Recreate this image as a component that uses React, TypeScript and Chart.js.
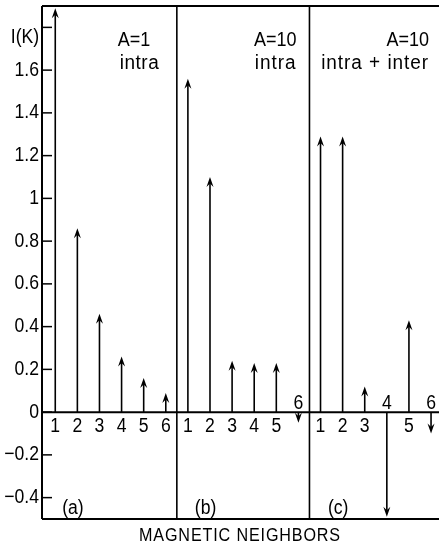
import { useEffect, useRef } from "react";
import { Chart, registerables } from "chart.js";

Chart.register(...registerables);

const neighbors = ["1", "2", "3", "4", "5", "6"];
const panelA = [1.89, 0.86, 0.46, 0.26, 0.16, 0.09];
const panelB = [1.56, 1.1, 0.24, 0.23, 0.23, -0.05];
const panelC = [1.29, 1.29, 0.12, -0.49, 0.43, -0.1];
const panelTitles = [
  ["A=1", "intra"],
  ["A=10", "intra"],
  ["A=10", "intra + inter"],
];
const panelTags = ["(a)", "(b)", "(c)"];
const yTicks = [-0.4, -0.2, 0, 0.2, 0.4, 0.6, 0.8, 1, 1.2, 1.4, 1.6, 1.8];
const yTickLabels = ["−0.4", "−0.2", "0", "0.2", "0.4", "0.6", "0.8", "1", "1.2", "1.4", "1.6", ""];
const yAxisTitle = "I(K)";
const xAxisTitle = "MAGNETIC NEIGHBORS";

const FONT = "'Liberation Sans', Arial, sans-serif";
const SPAN = 6;
const OFFSET = 0.6;

const panels = [panelA, panelB, panelC];

function drawText(
  ctx: CanvasRenderingContext2D,
  text: string,
  x: number,
  y: number,
  align: CanvasTextAlign,
  size = 20,
  sx = 0.88,
  spacing = 0
) {
  ctx.save();
  ctx.translate(x, y);
  ctx.scale(sx, 1);
  ctx.font = `${size}px ${FONT}`;
  (ctx as any).letterSpacing = `${spacing}px`;
  ctx.textAlign = align;
  ctx.textBaseline = "middle";
  ctx.fillText(text, 0, 0);
  ctx.restore();
}

function drawArrow(ctx: CanvasRenderingContext2D, px: number, yBase: number, yTip: number) {
  const dir = yTip < yBase ? -1 : 1;
  const len = Math.min(10, Math.abs(yTip - yBase));
  const half = 3.5;
  ctx.lineWidth = 1.6;
  ctx.beginPath();
  ctx.moveTo(px, yBase);
  ctx.lineTo(px, yTip - dir * len * 0.6);
  ctx.stroke();
  ctx.beginPath();
  ctx.moveTo(px, yTip);
  ctx.lineTo(px - half, yTip - dir * len);
  ctx.lineTo(px, yTip - dir * len * 0.65);
  ctx.lineTo(px + half, yTip - dir * len);
  ctx.closePath();
  ctx.fill();
}

const figurePlugin = {
  id: "figure",
  afterDatasetsDraw(chart: any) {
    const { ctx, chartArea, scales } = chart;
    const x = scales.x;
    const y = scales.y;
    const y0 = y.getPixelForValue(0);
    ctx.save();
    ctx.strokeStyle = "#000";
    ctx.fillStyle = "#000";
    ctx.lineCap = "butt";

    // frame
    ctx.lineWidth = 2;
    ctx.beginPath();
    ctx.moveTo(chartArea.left, chartArea.top);
    ctx.lineTo(chartArea.right, chartArea.top);
    ctx.moveTo(chartArea.left, chartArea.bottom);
    ctx.lineTo(chartArea.right, chartArea.bottom);
    ctx.moveTo(chartArea.left, chartArea.top);
    ctx.lineTo(chartArea.left, chartArea.bottom);
    ctx.stroke();

    // panel dividers
    ctx.lineWidth = 1.6;
    for (let k = 1; k < panels.length; k++) {
      const px = x.getPixelForValue(k * SPAN + 0.1);
      ctx.beginPath();
      ctx.moveTo(px, chartArea.top);
      ctx.lineTo(px, chartArea.bottom);
      ctx.stroke();
    }

    // zero line
    ctx.lineWidth = 2;
    ctx.beginPath();
    ctx.moveTo(chartArea.left, y0);
    ctx.lineTo(chartArea.right, y0);
    ctx.stroke();

    // inside y ticks + labels
    ctx.lineWidth = 1.5;
    yTicks.forEach((v, i) => {
      const py = y.getPixelForValue(v);
      ctx.beginPath();
      ctx.moveTo(chartArea.left, py);
      ctx.lineTo(chartArea.left + 10, py);
      ctx.stroke();
      if (yTickLabels[i]) drawText(ctx, yTickLabels[i], chartArea.left - 3, py, "right");
    });

    // arrows and neighbor labels
    panels.forEach((vals, k) => {
      const meta = chart.getDatasetMeta(k);
      meta.data.forEach((el: any, i: number) => {
        const v = vals[i];
        drawArrow(ctx, el.x, y0, el.y);
        const ly = v >= 0 ? y0 + 14 : y0 - 9;
        drawText(ctx, neighbors[i], el.x, ly, "center");
      });
    });

    // y axis title
    drawText(ctx, yAxisTitle, chartArea.left - 17, y.getPixelForValue(1.8) + 10, "center");

    // panel titles
    panelTitles.forEach((lines, k) => {
      const right = x.getPixelForValue((k + 1) * SPAN + 0.1);
      const ya = y.getPixelForValue(1.74);
      const yb = y.getPixelForValue(1.63);
      if (k === 0) {
        drawText(ctx, lines[0], right - 59, ya, "left", 20, 0.9);
        drawText(ctx, lines[1], right - 57, yb, "left", 20, 0.95, 0.5);
      } else {
        drawText(ctx, lines[0], right - 13, ya, "right", 20, 0.9);
        drawText(ctx, lines[1], right - 13, yb, "right", 20, 0.95, 1);
      }
    });

    // panel tags
    panelTags.forEach((t, k) => {
      const px = x.getPixelForValue(k * SPAN + 1.4);
      drawText(ctx, t, px, y.getPixelForValue(-0.45), "center");
    });

    // x axis title
    drawText(ctx, xAxisTitle, 240, chartArea.bottom + 17, "center", 19, 0.85, 1);
    ctx.restore();
  },
};

export default function App() {
  const ref = useRef<HTMLCanvasElement | null>(null);
  useEffect(() => {
    document.body.style.margin = "0";
    const canvas = ref.current;
    if (!canvas) return;
    const chart = new Chart(canvas, {
      type: "scatter",
      data: {
        datasets: panels.map((vals, k) => ({
          label: panelTags[k],
          data: vals.map((v, i) => ({ x: k * SPAN + i + OFFSET, y: v })),
          pointRadius: 0,
          pointHoverRadius: 0,
          showLine: false,
        })),
      },
      options: {
        responsive: false,
        animation: false,
        events: [],
        layout: { padding: { top: 6, bottom: 31, right: 0, left: 42 } },
        plugins: { legend: { display: false }, tooltip: { enabled: false } },
        scales: {
          x: { type: "linear", display: false, min: 0, max: 17.96 },
          y: { type: "linear", display: false, min: -0.5, max: 1.9 },
        },
      },
      plugins: [figurePlugin],
    });
    return () => chart.destroy();
  }, []);
  return (
    <div style={{ width: 439, height: 550, background: "#fff" }}>
      <canvas ref={ref} width={439} height={550} style={{ display: "block" }} />
    </div>
  );
}
